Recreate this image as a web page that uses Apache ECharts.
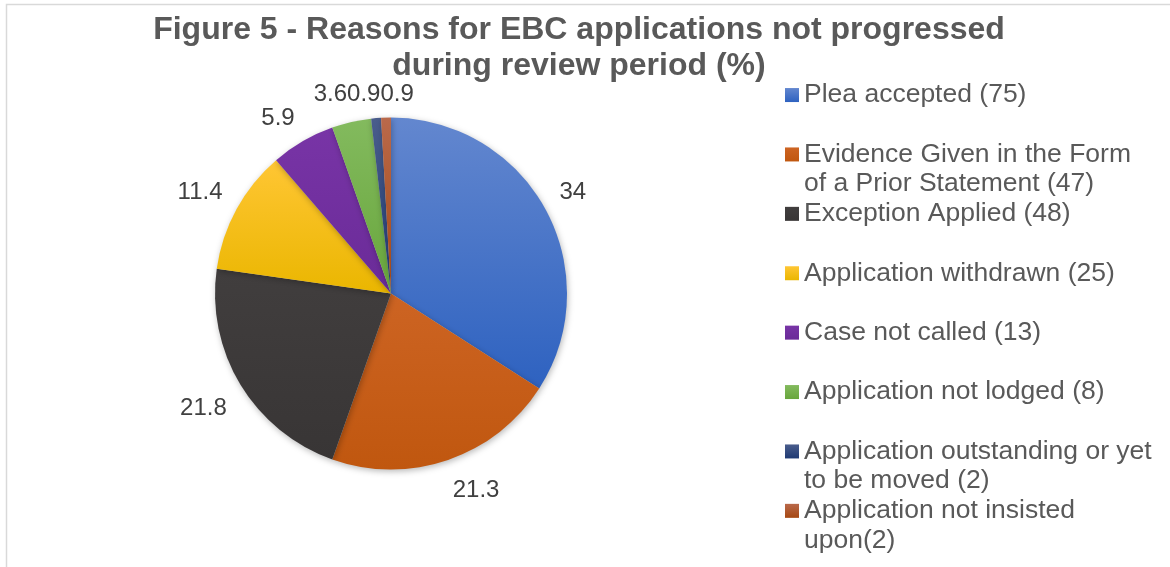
<!DOCTYPE html>
<html>
<head>
<meta charset="utf-8">
<script src="https://cdn.jsdelivr.net/npm/echarts@6/dist/echarts.min.js"></script>
<style>
  html, body { margin: 0; padding: 0; background: #ffffff; }
  #chart { width: 1170px; height: 567px; }
</style>
</head>
<body>
<div id="chart"></div>
<script>
// Legend entries (line breaks where the legend wraps)
const categories = [
  'Plea accepted (75)',
  'Evidence Given in the Form\nof a Prior Statement (47)',
  'Exception Applied (48)',
  'Application withdrawn (25)',
  'Case not called (13)',
  'Application not lodged (8)',
  'Application outstanding or yet\nto be moved (2)',
  'Application not insisted\nupon(2)'
];

// Share of applications not progressed (%)
const percentages = [34, 21.3, 21.8, 11.4, 5.9, 3.6, 0.9, 0.9];

// Top / bottom colours of each slice's gradient
const sliceColors = [
  ['#6387cf', '#2e62c0'],
  ['#cd6423', '#c0570f'],
  ['#413e3e', '#383535'],
  ['#ffc634', '#eab600'],
  ['#7834a6', '#6a2b98'],
  ['#83ba5e', '#68a63c'],
  ['#4a5d8c', '#1f3a73'],
  ['#b9694b', '#a64812']
];

const titleText = 'Figure 5 - Reasons for EBC applications not progressed\nduring review period (%)';

const FONT = '"Liberation Sans", Arial, sans-serif';
const LABEL_SIZE = 24;
const LABEL_BOX_H = 24;
const LABEL_GAP = 16;
const LABEL_DROP = 3;
const LABEL_MARGIN = 6;
const LEGEND_LINE = 29.7;

const chart = echarts.init(document.getElementById('chart'), null, { renderer: 'canvas' });

const seriesData = categories.map(function (name, i) {
  return {
    name: name,
    value: percentages[i],
    itemStyle: {
      color: new echarts.graphic.LinearGradient(0, 0, 0, 1, [
        { offset: 0, color: sliceColors[i][0] },
        { offset: 1, color: sliceColors[i][1] }
      ])
    }
  };
});

const frame = {
  type: 'rect',
  id: 'frame',
  silent: true,
  shape: { x: 6.5, y: 4.5, width: 1400, height: 800 },
  style: { fill: 'none', stroke: '#d9d9d9', lineWidth: 1.5 }
};

chart.setOption({
  animation: false,
  backgroundColor: '#ffffff',
  title: {
    text: titleText,
    left: 579,
    top: 12,
    padding: 0,
    textAlign: 'center',
    textStyle: {
      fontFamily: FONT,
      fontSize: 32,
      fontWeight: 'bold',
      color: '#595959',
      lineHeight: 36
    }
  },
  legend: {
    orient: 'vertical',
    left: 785,
    top: 50.5,
    padding: 0,
    itemWidth: 14,
    itemHeight: 14,
    itemGap: -LEGEND_LINE,
    icon: 'rect',
    selectedMode: false,
    data: categories,
    // every entry is laid out as three lines so the marker sits on its first text line
    formatter: function (name) {
      return '\n' + name + (name.indexOf('\n') >= 0 ? '' : '\n');
    },
    textStyle: {
      fontFamily: FONT,
      fontSize: 26.5,
      color: '#595959',
      lineHeight: LEGEND_LINE
    }
  },
  graphic: { elements: [frame] },
  series: [{
    type: 'pie',
    center: [391, 293.5],
    radius: 176,
    startAngle: 90,
    clockwise: true,
    silent: true,
    label: { show: false },
    labelLine: { show: false },
    emphasis: { disabled: true },
    itemStyle: {
      borderWidth: 0,
      shadowBlur: 6,
      shadowColor: 'rgba(0,0,0,0.28)',
      shadowOffsetX: 1,
      shadowOffsetY: 2
    },
    data: seriesData
  }]
});

function clampUnit(v) {
  return Math.max(-1, Math.min(1, v));
}

// Value labels sit just outside each slice's outer edge: the label box's inner
// corner touches a ring a little beyond the rim, on the slice's mid-angle.
// Labels that collide are packed side by side around their mean position.
function placeValueLabels() {
  const data = chart.getModel().getSeriesByIndex(0).getData();
  const ctx = document.createElement('canvas').getContext('2d');
  ctx.font = LABEL_SIZE + 'px ' + FONT;
  const h = LABEL_BOX_H;
  const labels = [];
  data.each(function (idx) {
    const lay = data.getItemLayout(idx);
    const mid = (lay.startAngle + lay.endAngle) / 2;
    const ux = Math.cos(mid), uy = Math.sin(mid);
    const text = String(percentages[idx]);
    const w = ctx.measureText(text).width;
    const ring = lay.r + LABEL_GAP;
    labels.push({
      text: text,
      w: w,
      x: lay.cx + ux * ring + clampUnit(3 * ux) * w / 2,
      y: lay.cy + uy * ring + clampUnit(3 * uy) * h / 2 + LABEL_DROP
    });
  });

  // group consecutive overlapping labels
  const groups = [];
  labels.forEach(function (lb) {
    const g = groups[groups.length - 1];
    if (g) {
      const prev = g[g.length - 1];
      if (Math.abs(prev.x - lb.x) < (prev.w + lb.w) / 2 + LABEL_MARGIN &&
          Math.abs(prev.y - lb.y) < h) {
        g.push(lb);
        return;
      }
    }
    groups.push([lb]);
  });
  groups.forEach(function (g) {
    if (g.length < 2) return;
    const sorted = g.slice().sort(function (a, b) { return a.x - b.x; });
    const meanX = g.reduce(function (s, l) { return s + l.x; }, 0) / g.length;
    const meanY = g.reduce(function (s, l) { return s + l.y; }, 0) / g.length;
    const total = g.reduce(function (s, l) { return s + l.w; }, 0);
    let cursor = meanX - total / 2;
    sorted.forEach(function (l) {
      l.x = cursor + l.w / 2;
      l.y = meanY;
      cursor += l.w;
    });
  });

  const elements = [frame].concat(labels.map(function (l, i) {
    return {
      type: 'text',
      id: 'value' + i,
      silent: true,
      x: l.x,
      y: l.y,
      style: {
        text: l.text,
        fontFamily: FONT,
        fontSize: LABEL_SIZE,
        fill: '#404040',
        align: 'center',
        verticalAlign: 'middle'
      }
    };
  }));
  chart.setOption({ graphic: { elements: elements } });
}

placeValueLabels();
</script>
</body>
</html>
